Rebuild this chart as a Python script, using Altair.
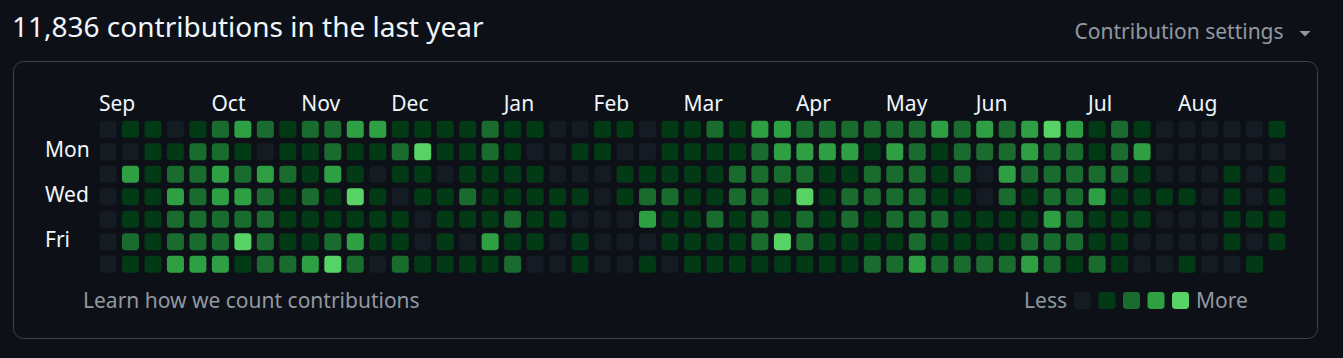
import altair as alt
import pandas as pd

# ---- data (levels 0-4), one list per weekday row ----
sun = [0,1,1,0,1,2,3,2,1,2,2,3,3, 1,1,1,1,2,1,1,0,0,1,1,0,1, 1,2,1,3,3,2,2,2,2,2,2,3,2, 3,2,3,4,3,1,2,1,0,0,0,0,0,1]
mon = [0,0,1,1,2,2,1,0,1,1,2,1,1, 2,4,1,1,2,1,0,0,1,1,0,0,1, 1,1,1,2,3,3,3,3,1,3,2,1,2, 2,2,3,2,2,1,2,3,0,0,0,0,0,0]
tue = [0,3,1,2,2,3,2,3,2,1,3,1,0, 1,1,0,1,1,1,1,0,0,0,1,1,1, 1,1,2,2,2,2,1,1,2,2,2,1,2, 0,3,2,2,2,2,2,1,0,0,0,1,0,1]
wed = [0,1,1,3,2,3,3,2,1,2,1,4,1, 0,1,1,2,1,1,1,1,1,0,1,2,2, 1,1,2,2,1,4,1,2,2,2,2,1,1, 0,2,1,2,2,3,1,1,1,1,0,1,0,1]
thu = [0,1,1,2,2,2,2,2,1,1,1,1,1, 1,0,1,1,1,2,1,1,0,0,0,3,1, 1,2,1,2,1,2,1,2,1,2,2,2,1, 1,1,1,3,2,1,1,1,0,0,0,1,1,1]
fri = [0,2,1,2,2,2,4,2,1,1,2,3,1, 1,0,1,0,3,1,1,0,1,0,0,0,1, 1,1,1,2,4,2,1,1,1,1,2,1,1, 1,1,2,2,2,1,1,0,0,0,0,1,0,1]
sat = [0,1,1,3,3,3,1,2,2,3,4,2,0, 2,1,1,1,1,2,0,0,1,0,0,1,0, 1,1,1,1,1,1,1,1,2,2,3,2,2, 2,2,3,2,1,2,1,0,0,1,0,0,1]

month_names = ["Sep", "Oct", "Nov", "Dec", "Jan", "Feb", "Mar", "Apr", "May", "Jun", "Jul", "Aug"]
month_weeks = [0, 5, 9, 13, 18, 22, 26, 31, 35, 39, 44, 48]
day_labels = ["Mon", "Wed", "Fri"]
day_label_rows = [1, 3, 5]
levels = [0, 1, 2, 3, 4]
level_colors = ["#151b23", "#033a16", "#196c2e", "#2ea043", "#56d364"]

title_text = "11,836 contributions in the last year"
settings_text = "Contribution settings"
learn_text = "Learn how we count contributions"

rows = [sun, mon, tue, wed, thu, fri, sat]
records = [{"week": w, "day": d, "level": v} for d, row in enumerate(rows) for w, v in enumerate(row)]
cells = pd.DataFrame(records)

W, H = 1343, 358
STEP = 22.48
X0, Y0 = 108.0, 129.3
FONT = "Noto Sans"
FG = "#f0f6fc"
MUTED = "#9198a1"
SMALL = 21

xscale = alt.Scale(domain=[-X0 / STEP, (W - X0) / STEP], range=[0, W], nice=False, zero=False)
yscale = alt.Scale(domain=[-Y0 / STEP, (H - Y0) / STEP], range=[0, H], nice=False, zero=False)

cell_shape = ("M -0.6 -1 L 0.6 -1 Q 1 -1 1 -0.6 L 1 0.6 Q 1 1 0.6 1 "
              "L -0.6 1 Q -1 1 -1 0.6 L -1 -0.6 Q -1 -1 -0.6 -1 Z")

one = pd.DataFrame({"t": [""]})

box = alt.Chart(one).mark_rect(
    fill="#0d1117", stroke="#3d444d", strokeWidth=1, cornerRadius=10
).encode(x=alt.value(13.5), x2=alt.value(1317.5), y=alt.value(61.5), y2=alt.value(338.5))

grid = alt.Chart(cells).mark_point(
    shape=cell_shape, filled=True, size=289, opacity=1, strokeWidth=0
).encode(
    x=alt.X("week:Q", scale=xscale, axis=None),
    y=alt.Y("day:Q", scale=yscale, axis=None),
    color=alt.Color(
        "level:O",
        scale=alt.Scale(domain=levels, range=level_colors),
        legend=alt.Legend(
            orient="none", legendX=1074, legendY=292, direction="horizontal",
            title=None, labelExpr="''", labelOffset=0, columnPadding=7.5, padding=0,
            symbolType=cell_shape, symbolSize=289, symbolStrokeWidth=0, symbolOpacity=1,
        ),
    ),
)

months_df = pd.DataFrame({"month": month_names, "week": month_weeks})
month_text = alt.Chart(months_df).mark_text(
    align="left", baseline="alphabetic", dx=-9, fontSize=SMALL, font=FONT, color=FG
).encode(x=alt.X("week:Q", scale=xscale, axis=None), y=alt.value(110.5), text="month:N")

days_df = pd.DataFrame({"label": day_labels, "day": day_label_rows})
day_text = alt.Chart(days_df).mark_text(
    align="left", baseline="alphabetic", dy=5.5, fontSize=SMALL, font=FONT, color=FG
).encode(x=alt.value(45), y=alt.Y("day:Q", scale=yscale, axis=None), text="label:N")

title = alt.Chart(pd.DataFrame({"t": [title_text]})).mark_text(
    align="left", baseline="alphabetic", fontSize=28, font=FONT, color=FG
).encode(x=alt.value(12), y=alt.value(36.5), text="t:N")

settings = alt.Chart(pd.DataFrame({"t": [settings_text]})).mark_text(
    align="left", baseline="alphabetic", fontSize=SMALL, font=FONT, color=MUTED
).encode(x=alt.value(1074.5), y=alt.value(39), text="t:N")

caret = alt.Chart(one).mark_point(
    shape="M -1 -0.5 L 1 -0.5 L 0 0.5 Z", filled=True, size=121, opacity=1, color=MUTED, strokeWidth=0
).encode(x=alt.value(1305), y=alt.value(33.7))

learn = alt.Chart(pd.DataFrame({"t": [learn_text]})).mark_text(
    align="left", baseline="alphabetic", fontSize=SMALL, font=FONT, color=MUTED
).encode(x=alt.value(83), y=alt.value(308), text="t:N")

less = alt.Chart(pd.DataFrame({"t": ["Less"]})).mark_text(
    align="right", baseline="alphabetic", fontSize=SMALL, font=FONT, color=MUTED
).encode(x=alt.value(1067), y=alt.value(308), text="t:N")

more = alt.Chart(pd.DataFrame({"t": ["More"]})).mark_text(
    align="left", baseline="alphabetic", fontSize=SMALL, font=FONT, color=MUTED
).encode(x=alt.value(1196), y=alt.value(308), text="t:N")

chart = alt.layer(box, grid, month_text, day_text, title, settings, caret, learn, less, more).properties(
    width=W, height=H, background="#0d1117", padding=0,
    autosize=alt.AutoSizeParams(type="none"),
).configure_view(strokeWidth=0)

chart.save("out.html", embed_options={"renderer": "svg", "actions": False})
